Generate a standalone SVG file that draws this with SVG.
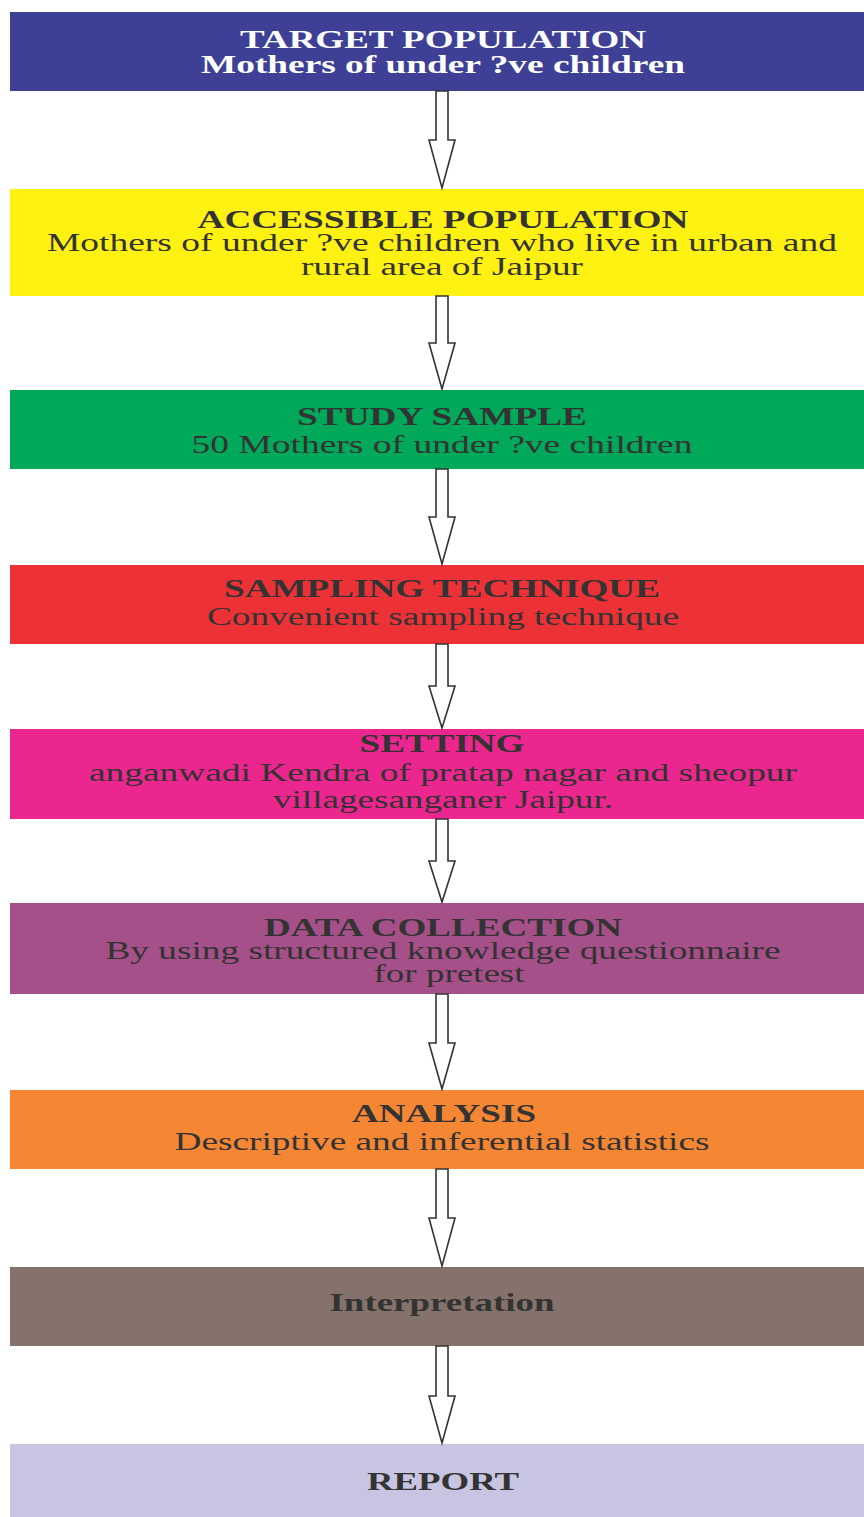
<svg xmlns="http://www.w3.org/2000/svg" width="864" height="1517" viewBox="0 0 864 1517">
<style>
.t{font-family:"Liberation Serif","Times New Roman",serif;font-size:25px;text-anchor:middle;fill:#333333}
.b{font-weight:bold}
.w{fill:#ffffff}
.arr{fill:#ffffff;stroke:#333333;stroke-width:1.6;stroke-linejoin:miter}
</style>
<rect width="864" height="1517" fill="#ffffff"/>
<g id="n1"><rect x="10" y="12" width="854" height="79" fill="#3e4095"/>
<text class="t b w" x="443" y="48" textLength="406" lengthAdjust="spacingAndGlyphs">TARGET POPULATION</text>
<text class="t b w" x="443" y="73" textLength="484" lengthAdjust="spacingAndGlyphs">Mothers of under ?ve children</text></g>
<g id="n2"><rect x="10" y="189" width="854" height="107" fill="#fff212"/>
<text class="t b" x="443" y="228" textLength="491" lengthAdjust="spacingAndGlyphs">ACCESSIBLE POPULATION</text>
<text class="t" x="442" y="251" textLength="790" lengthAdjust="spacingAndGlyphs">Mothers of under ?ve children who live in urban and</text>
<text class="t" x="442" y="275" textLength="282" lengthAdjust="spacingAndGlyphs">rural area of Jaipur</text></g>
<g id="n3"><rect x="10" y="390" width="854" height="79" fill="#00a859"/>
<text class="t b" x="442" y="425" textLength="290" lengthAdjust="spacingAndGlyphs">STUDY SAMPLE</text>
<text class="t" x="442" y="453" textLength="501" lengthAdjust="spacingAndGlyphs">50 Mothers of under ?ve children</text></g>
<g id="n4"><rect x="10" y="565" width="854" height="79" fill="#ed3237"/>
<text class="t b" x="442" y="597" textLength="436" lengthAdjust="spacingAndGlyphs">SAMPLING TECHNIQUE</text>
<text class="t" x="443" y="625" textLength="472" lengthAdjust="spacingAndGlyphs">Convenient sampling technique</text></g>
<g id="n5"><rect x="10" y="729" width="854" height="90" fill="#ec268f"/>
<text class="t b" x="442" y="752" textLength="165" lengthAdjust="spacingAndGlyphs">SETTING</text>
<text class="t" x="443" y="781" textLength="708" lengthAdjust="spacingAndGlyphs">anganwadi Kendra of pratap nagar and sheopur</text>
<text class="t" x="443" y="808" textLength="340" lengthAdjust="spacingAndGlyphs">villagesanganer Jaipur.</text></g>
<g id="n6"><rect x="10" y="903" width="854" height="91" fill="#a65089"/>
<text class="t b" x="443" y="936" textLength="358" lengthAdjust="spacingAndGlyphs">DATA COLLECTION</text>
<text class="t" x="443" y="959" textLength="675" lengthAdjust="spacingAndGlyphs">By using structured knowledge questionnaire</text>
<text class="t" x="449" y="982" textLength="151" lengthAdjust="spacingAndGlyphs">for pretest</text></g>
<g id="n7"><rect x="10" y="1090" width="854" height="79" fill="#f58634"/>
<text class="t b" x="444" y="1122" textLength="184" lengthAdjust="spacingAndGlyphs">ANALYSIS</text>
<text class="t" x="442" y="1150" textLength="535" lengthAdjust="spacingAndGlyphs">Descriptive and inferential statistics</text></g>
<g id="n8"><rect x="10" y="1267" width="854" height="79" fill="#85736b"/>
<text class="t b" x="442" y="1311" textLength="225" lengthAdjust="spacingAndGlyphs">Interpretation</text></g>
<g id="n9"><rect x="10" y="1444" width="854" height="73" fill="#c8c5e2"/>
<text class="t b" x="443" y="1490" textLength="152" lengthAdjust="spacingAndGlyphs">REPORT</text></g>
<g id="connectors">
<path class="arr" d="M436,91 H448 V140 H455 L442,188 L429,140 H436 Z"/>
<path class="arr" d="M436,296 H448 V343 H455 L442,389 L429,343 H436 Z"/>
<path class="arr" d="M436,469 H448 V517 H455 L442,564 L429,517 H436 Z"/>
<path class="arr" d="M436,644 H448 V686 H455 L442,728 L429,686 H436 Z"/>
<path class="arr" d="M436,819 H448 V861 H455 L442,902 L429,861 H436 Z"/>
<path class="arr" d="M436,994 H448 V1043 H455 L442,1089 L429,1043 H436 Z"/>
<path class="arr" d="M436,1169 H448 V1218 H455 L442,1266 L429,1218 H436 Z"/>
<path class="arr" d="M436,1346 H448 V1396 H455 L442,1443 L429,1396 H436 Z"/>
</g>
</svg>
